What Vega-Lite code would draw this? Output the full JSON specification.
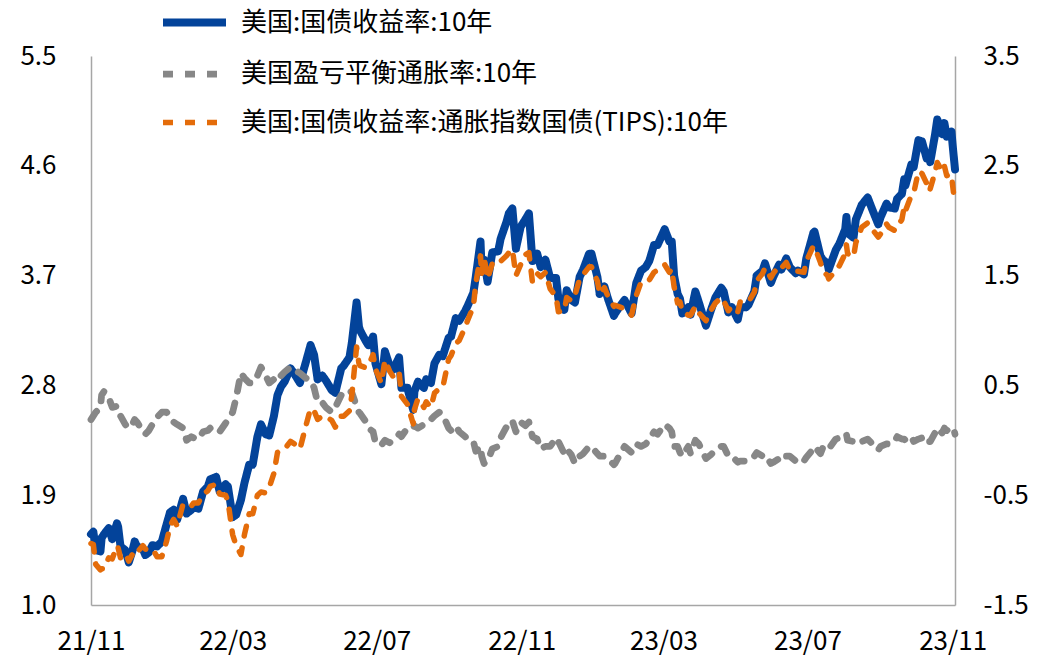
{
"$schema":"https://vega.github.io/schema/vega-lite/v6.json",
"width":864,"height":549,
"autosize":"none",
"padding":{"left":91,"top":56,"right":96,"bottom":52},
"background":"#ffffff",
"config":{"view":{"stroke":null},"font":"Noto Sans CJK SC"},
"data":{"values":[
{"d":"2021-11-01","a":1.58,"b":2.52,"c":-0.94},
{"d":"2021-11-03","a":1.60,"b":2.55,"c":-0.95},
{"d":"2021-11-05","a":1.45,"b":2.58,"c":-1.13},
{"d":"2021-11-09","a":1.44,"b":2.62,"c":-1.18},
{"d":"2021-11-10","a":1.55,"b":2.72,"c":-1.17},
{"d":"2021-11-12","a":1.58,"b":2.75,"c":-1.17},
{"d":"2021-11-16","a":1.63,"b":2.70,"c":-1.07},
{"d":"2021-11-19","a":1.54,"b":2.62,"c":-1.08},
{"d":"2021-11-23","a":1.67,"b":2.63,"c":-0.96},
{"d":"2021-11-24","a":1.64,"b":2.62,"c":-0.98},
{"d":"2021-11-26","a":1.48,"b":2.55,"c":-1.07},
{"d":"2021-11-30","a":1.45,"b":2.48,"c":-1.03},
{"d":"2021-12-03","a":1.35,"b":2.45,"c":-1.10},
{"d":"2021-12-06","a":1.44,"b":2.48,"c":-1.04},
{"d":"2021-12-08","a":1.52,"b":2.52,"c":-1.00},
{"d":"2021-12-10","a":1.48,"b":2.50,"c":-1.02},
{"d":"2021-12-15","a":1.46,"b":2.42,"c":-0.96},
{"d":"2021-12-17","a":1.41,"b":2.40,"c":-0.99},
{"d":"2021-12-20","a":1.43,"b":2.43,"c":-1.00},
{"d":"2021-12-23","a":1.49,"b":2.48,"c":-0.99},
{"d":"2021-12-27","a":1.48,"b":2.54,"c":-1.06},
{"d":"2021-12-31","a":1.52,"b":2.58,"c":-1.06},
{"d":"2022-01-04","a":1.66,"b":2.58,"c":-0.92},
{"d":"2022-01-07","a":1.76,"b":2.54,"c":-0.78},
{"d":"2022-01-10","a":1.78,"b":2.50,"c":-0.72},
{"d":"2022-01-13","a":1.70,"b":2.48,"c":-0.78},
{"d":"2022-01-18","a":1.87,"b":2.45,"c":-0.58},
{"d":"2022-01-21","a":1.75,"b":2.35,"c":-0.60},
{"d":"2022-01-25","a":1.78,"b":2.38,"c":-0.60},
{"d":"2022-01-27","a":1.80,"b":2.37,"c":-0.57},
{"d":"2022-01-31","a":1.79,"b":2.36,"c":-0.57},
{"d":"2022-02-04","a":1.93,"b":2.42,"c":-0.49},
{"d":"2022-02-08","a":1.97,"b":2.43,"c":-0.46},
{"d":"2022-02-10","a":2.03,"b":2.45,"c":-0.42},
{"d":"2022-02-15","a":2.05,"b":2.45,"c":-0.40},
{"d":"2022-02-18","a":1.93,"b":2.42,"c":-0.49},
{"d":"2022-02-23","a":1.99,"b":2.49,"c":-0.50},
{"d":"2022-02-25","a":1.97,"b":2.52,"c":-0.55},
{"d":"2022-03-01","a":1.72,"b":2.58,"c":-0.86},
{"d":"2022-03-04","a":1.74,"b":2.70,"c":-0.96},
{"d":"2022-03-08","a":1.86,"b":2.90,"c":-1.04},
{"d":"2022-03-11","a":2.00,"b":2.86,"c":-0.86},
{"d":"2022-03-15","a":2.15,"b":2.82,"c":-0.67},
{"d":"2022-03-18","a":2.15,"b":2.82,"c":-0.67},
{"d":"2022-03-22","a":2.38,"b":2.88,"c":-0.50},
{"d":"2022-03-25","a":2.48,"b":2.95,"c":-0.47},
{"d":"2022-03-29","a":2.40,"b":2.88,"c":-0.48},
{"d":"2022-04-01","a":2.39,"b":2.82,"c":-0.43},
{"d":"2022-04-05","a":2.55,"b":2.85,"c":-0.30},
{"d":"2022-04-08","a":2.72,"b":2.83,"c":-0.11},
{"d":"2022-04-11","a":2.79,"b":2.88,"c":-0.09},
{"d":"2022-04-14","a":2.83,"b":2.91,"c":-0.08},
{"d":"2022-04-19","a":2.94,"b":2.95,"c":-0.01},
{"d":"2022-04-22","a":2.90,"b":2.93,"c":-0.03},
{"d":"2022-04-27","a":2.82,"b":2.90,"c":-0.08},
{"d":"2022-05-02","a":2.99,"b":2.86,"c":0.13},
{"d":"2022-05-06","a":3.13,"b":2.84,"c":0.29},
{"d":"2022-05-09","a":3.05,"b":2.78,"c":0.27},
{"d":"2022-05-12","a":2.85,"b":2.66,"c":0.19},
{"d":"2022-05-16","a":2.88,"b":2.66,"c":0.22},
{"d":"2022-05-19","a":2.84,"b":2.62,"c":0.22},
{"d":"2022-05-24","a":2.76,"b":2.58,"c":0.18},
{"d":"2022-05-27","a":2.74,"b":2.62,"c":0.12},
{"d":"2022-06-01","a":2.94,"b":2.72,"c":0.22},
{"d":"2022-06-03","a":2.96,"b":2.74,"c":0.22},
{"d":"2022-06-08","a":3.03,"b":2.76,"c":0.27},
{"d":"2022-06-10","a":3.15,"b":2.74,"c":0.41},
{"d":"2022-06-14","a":3.48,"b":2.63,"c":0.85},
{"d":"2022-06-16","a":3.28,"b":2.58,"c":0.70},
{"d":"2022-06-17","a":3.25,"b":2.57,"c":0.68},
{"d":"2022-06-22","a":3.16,"b":2.50,"c":0.66},
{"d":"2022-06-24","a":3.13,"b":2.45,"c":0.68},
{"d":"2022-06-28","a":3.20,"b":2.42,"c":0.78},
{"d":"2022-06-30","a":2.98,"b":2.33,"c":0.65},
{"d":"2022-07-05","a":2.81,"b":2.31,"c":0.52},
{"d":"2022-07-08","a":3.08,"b":2.35,"c":0.73},
{"d":"2022-07-12","a":2.96,"b":2.33,"c":0.63},
{"d":"2022-07-15","a":2.93,"b":2.35,"c":0.58},
{"d":"2022-07-20","a":3.03,"b":2.40,"c":0.63},
{"d":"2022-07-22","a":2.78,"b":2.38,"c":0.40},
{"d":"2022-07-27","a":2.78,"b":2.45,"c":0.33},
{"d":"2022-08-01","a":2.60,"b":2.45,"c":0.15},
{"d":"2022-08-02","a":2.75,"b":2.47,"c":0.28},
{"d":"2022-08-05","a":2.83,"b":2.45,"c":0.38},
{"d":"2022-08-10","a":2.78,"b":2.48,"c":0.30},
{"d":"2022-08-12","a":2.85,"b":2.50,"c":0.35},
{"d":"2022-08-16","a":2.82,"b":2.52,"c":0.30},
{"d":"2022-08-19","a":2.98,"b":2.55,"c":0.43},
{"d":"2022-08-23","a":3.05,"b":2.58,"c":0.47},
{"d":"2022-08-26","a":3.04,"b":2.56,"c":0.48},
{"d":"2022-08-31","a":3.19,"b":2.45,"c":0.74},
{"d":"2022-09-02","a":3.20,"b":2.43,"c":0.77},
{"d":"2022-09-06","a":3.35,"b":2.47,"c":0.88},
{"d":"2022-09-09","a":3.33,"b":2.42,"c":0.91},
{"d":"2022-09-14","a":3.41,"b":2.38,"c":1.03},
{"d":"2022-09-16","a":3.45,"b":2.36,"c":1.09},
{"d":"2022-09-21","a":3.56,"b":2.34,"c":1.22},
{"d":"2022-09-23","a":3.69,"b":2.26,"c":1.43},
{"d":"2022-09-27","a":3.98,"b":2.30,"c":1.68},
{"d":"2022-09-28","a":3.73,"b":2.22,"c":1.51},
{"d":"2022-09-30","a":3.83,"b":2.16,"c":1.67},
{"d":"2022-10-03","a":3.65,"b":2.18,"c":1.47},
{"d":"2022-10-07","a":3.89,"b":2.28,"c":1.61},
{"d":"2022-10-12","a":3.90,"b":2.30,"c":1.60},
{"d":"2022-10-14","a":4.00,"b":2.37,"c":1.63},
{"d":"2022-10-19","a":4.14,"b":2.46,"c":1.68},
{"d":"2022-10-21","a":4.21,"b":2.50,"c":1.71},
{"d":"2022-10-24","a":4.25,"b":2.51,"c":1.74},
{"d":"2022-10-27","a":3.92,"b":2.42,"c":1.50},
{"d":"2022-10-31","a":4.10,"b":2.50,"c":1.60},
{"d":"2022-11-04","a":4.16,"b":2.47,"c":1.69},
{"d":"2022-11-07","a":4.21,"b":2.50,"c":1.71},
{"d":"2022-11-10","a":3.82,"b":2.38,"c":1.44},
{"d":"2022-11-14","a":3.88,"b":2.36,"c":1.52},
{"d":"2022-11-17","a":3.77,"b":2.28,"c":1.49},
{"d":"2022-11-21","a":3.83,"b":2.30,"c":1.53},
{"d":"2022-11-25","a":3.68,"b":2.30,"c":1.38},
{"d":"2022-11-30","a":3.68,"b":2.37,"c":1.31},
{"d":"2022-12-02","a":3.51,"b":2.34,"c":1.17},
{"d":"2022-12-07","a":3.42,"b":2.24,"c":1.18},
{"d":"2022-12-09","a":3.58,"b":2.28,"c":1.30},
{"d":"2022-12-13","a":3.50,"b":2.23,"c":1.27},
{"d":"2022-12-16","a":3.48,"b":2.16,"c":1.32},
{"d":"2022-12-20","a":3.69,"b":2.22,"c":1.47},
{"d":"2022-12-23","a":3.75,"b":2.24,"c":1.51},
{"d":"2022-12-28","a":3.88,"b":2.30,"c":1.58},
{"d":"2022-12-30","a":3.88,"b":2.30,"c":1.58},
{"d":"2023-01-04","a":3.69,"b":2.24,"c":1.45},
{"d":"2023-01-06","a":3.55,"b":2.22,"c":1.33},
{"d":"2023-01-10","a":3.61,"b":2.22,"c":1.39},
{"d":"2023-01-13","a":3.51,"b":2.20,"c":1.31},
{"d":"2023-01-18","a":3.37,"b":2.15,"c":1.22},
{"d":"2023-01-19","a":3.39,"b":2.16,"c":1.23},
{"d":"2023-01-24","a":3.46,"b":2.25,"c":1.21},
{"d":"2023-01-27","a":3.50,"b":2.30,"c":1.20},
{"d":"2023-02-02","a":3.39,"b":2.25,"c":1.14},
{"d":"2023-02-06","a":3.64,"b":2.32,"c":1.32},
{"d":"2023-02-10","a":3.74,"b":2.30,"c":1.44},
{"d":"2023-02-14","a":3.77,"b":2.32,"c":1.45},
{"d":"2023-02-17","a":3.82,"b":2.36,"c":1.46},
{"d":"2023-02-21","a":3.95,"b":2.42,"c":1.53},
{"d":"2023-02-24","a":3.95,"b":2.40,"c":1.55},
{"d":"2023-03-02","a":4.08,"b":2.48,"c":1.60},
{"d":"2023-03-06","a":3.98,"b":2.45,"c":1.53},
{"d":"2023-03-08","a":3.98,"b":2.42,"c":1.56},
{"d":"2023-03-10","a":3.70,"b":2.30,"c":1.40},
{"d":"2023-03-13","a":3.55,"b":2.30,"c":1.25},
{"d":"2023-03-15","a":3.51,"b":2.25,"c":1.26},
{"d":"2023-03-17","a":3.39,"b":2.22,"c":1.17},
{"d":"2023-03-22","a":3.44,"b":2.30,"c":1.14},
{"d":"2023-03-24","a":3.38,"b":2.24,"c":1.14},
{"d":"2023-03-28","a":3.57,"b":2.35,"c":1.22},
{"d":"2023-03-31","a":3.48,"b":2.32,"c":1.16},
{"d":"2023-04-06","a":3.29,"b":2.20,"c":1.09},
{"d":"2023-04-10","a":3.41,"b":2.23,"c":1.18},
{"d":"2023-04-14","a":3.52,"b":2.27,"c":1.25},
{"d":"2023-04-19","a":3.60,"b":2.30,"c":1.30},
{"d":"2023-04-21","a":3.57,"b":2.30,"c":1.27},
{"d":"2023-04-25","a":3.40,"b":2.22,"c":1.18},
{"d":"2023-04-28","a":3.44,"b":2.22,"c":1.22},
{"d":"2023-05-03","a":3.34,"b":2.17,"c":1.17},
{"d":"2023-05-05","a":3.44,"b":2.18,"c":1.26},
{"d":"2023-05-10","a":3.44,"b":2.18,"c":1.26},
{"d":"2023-05-12","a":3.46,"b":2.20,"c":1.26},
{"d":"2023-05-17","a":3.57,"b":2.22,"c":1.35},
{"d":"2023-05-19","a":3.70,"b":2.25,"c":1.45},
{"d":"2023-05-24","a":3.74,"b":2.22,"c":1.52},
{"d":"2023-05-26","a":3.80,"b":2.23,"c":1.57},
{"d":"2023-05-31","a":3.64,"b":2.16,"c":1.48},
{"d":"2023-06-02","a":3.69,"b":2.17,"c":1.52},
{"d":"2023-06-07","a":3.79,"b":2.20,"c":1.59},
{"d":"2023-06-09","a":3.75,"b":2.18,"c":1.57},
{"d":"2023-06-13","a":3.84,"b":2.22,"c":1.62},
{"d":"2023-06-16","a":3.77,"b":2.22,"c":1.55},
{"d":"2023-06-21","a":3.72,"b":2.18,"c":1.54},
{"d":"2023-06-23","a":3.74,"b":2.20,"c":1.54},
{"d":"2023-06-28","a":3.71,"b":2.18,"c":1.53},
{"d":"2023-06-30","a":3.84,"b":2.21,"c":1.63},
{"d":"2023-07-06","a":4.05,"b":2.28,"c":1.77},
{"d":"2023-07-07","a":4.06,"b":2.30,"c":1.76},
{"d":"2023-07-12","a":3.86,"b":2.24,"c":1.62},
{"d":"2023-07-14","a":3.83,"b":2.29,"c":1.54},
{"d":"2023-07-18","a":3.80,"b":2.30,"c":1.50},
{"d":"2023-07-19","a":3.75,"b":2.28,"c":1.47},
{"d":"2023-07-25","a":3.91,"b":2.36,"c":1.55},
{"d":"2023-07-28","a":3.96,"b":2.37,"c":1.59},
{"d":"2023-08-02","a":4.08,"b":2.38,"c":1.70},
{"d":"2023-08-03","a":4.18,"b":2.40,"c":1.78},
{"d":"2023-08-04","a":4.05,"b":2.35,"c":1.70},
{"d":"2023-08-09","a":4.01,"b":2.34,"c":1.67},
{"d":"2023-08-11","a":4.16,"b":2.36,"c":1.80},
{"d":"2023-08-16","a":4.28,"b":2.34,"c":1.94},
{"d":"2023-08-21","a":4.34,"b":2.36,"c":1.98},
{"d":"2023-08-25","a":4.24,"b":2.32,"c":1.92},
{"d":"2023-08-30","a":4.12,"b":2.27,"c":1.85},
{"d":"2023-09-01","a":4.18,"b":2.30,"c":1.88},
{"d":"2023-09-06","a":4.29,"b":2.32,"c":1.97},
{"d":"2023-09-08","a":4.26,"b":2.32,"c":1.94},
{"d":"2023-09-13","a":4.25,"b":2.34,"c":1.91},
{"d":"2023-09-15","a":4.33,"b":2.38,"c":1.95},
{"d":"2023-09-19","a":4.37,"b":2.36,"c":2.01},
{"d":"2023-09-21","a":4.49,"b":2.36,"c":2.13},
{"d":"2023-09-22","a":4.44,"b":2.35,"c":2.09},
{"d":"2023-09-27","a":4.61,"b":2.38,"c":2.23},
{"d":"2023-09-29","a":4.59,"b":2.34,"c":2.25},
{"d":"2023-10-03","a":4.81,"b":2.36,"c":2.45},
{"d":"2023-10-06","a":4.80,"b":2.37,"c":2.43},
{"d":"2023-10-10","a":4.66,"b":2.32,"c":2.34},
{"d":"2023-10-12","a":4.70,"b":2.34,"c":2.36},
{"d":"2023-10-13","a":4.63,"b":2.34,"c":2.29},
{"d":"2023-10-17","a":4.85,"b":2.41,"c":2.44},
{"d":"2023-10-19","a":4.98,"b":2.45,"c":2.53},
{"d":"2023-10-23","a":4.86,"b":2.41,"c":2.45},
{"d":"2023-10-25","a":4.95,"b":2.45,"c":2.50},
{"d":"2023-10-27","a":4.84,"b":2.43,"c":2.41},
{"d":"2023-10-31","a":4.88,"b":2.46,"c":2.42},
{"d":"2023-11-01","a":4.77,"b":2.45,"c":2.32},
{"d":"2023-11-02","a":4.67,"b":2.44,"c":2.23},
{"d":"2023-11-03","a":4.57,"b":2.40,"c":2.17}
]},
"transform":[{"fold":["a","b","c"],"as":["s","v"]}],
"encoding":{
 "x":{"field":"d","type":"temporal",
  "scale":{"type":"utc","domain":[{"year":2021,"month":11,"date":1,"utc":true},{"year":2023,"month":11,"date":3,"utc":true}]},
  "axis":{"title":null,"grid":false,"ticks":false,"domainColor":"#a6a6a6","domainWidth":1.5,
   "values":[{"year":2021,"month":11,"date":1,"utc":true},{"year":2022,"month":3,"date":1,"utc":true},{"year":2022,"month":7,"date":1,"utc":true},{"year":2022,"month":11,"date":1,"utc":true},{"year":2023,"month":3,"date":1,"utc":true},{"year":2023,"month":7,"date":1,"utc":true},{"year":2023,"month":11,"date":1,"utc":true}],
   "labelExpr":"utcFormat(datum.value, '%y/%m')","labelFontSize":26,"labelColor":"#000000","labelPadding":23,"labelFlush":false,"labelOverlap":false,"labelBound":false}},
 "color":{"field":"s","type":"nominal","scale":{"domain":["a","b","c"],"range":["#03439A","#878787","#E46C0A"]},
  "legend":{"orient":"none","legendX":68,"legendY":-69,"title":null,"symbolType":"stroke","symbolSize":3969,"labelFontSize":26,"labelColor":"#000000","labelLimit":0,"rowPadding":0,"padding":0,"labelOffset":11,
   "labelExpr":"datum.label == 'a' ? '美国:国债收益率:10年' : datum.label == 'b' ? '美国盈亏平衡通胀率:10年' : '美国:国债收益率:通胀指数国债(TIPS):10年'"}},
 "strokeDash":{"field":"s","type":"nominal","scale":{"domain":["a","b","c"],"range":[[1,0],[10,12],[10,12]]}},
 "strokeWidth":{"field":"s","type":"nominal","scale":{"domain":["a","b","c"],"range":[8,5.5,5.5]}}
},
"layer":[
 {"transform":[{"filter":"datum.s != 'c'"}],
  "mark":{"type":"line","strokeCap":"round","strokeJoin":"round"},
  "encoding":{"y":{"field":"v","type":"quantitative","scale":{"domain":[1.0,5.5],"nice":false,"zero":false},
   "axis":{"title":null,"grid":false,"ticks":false,"values":[1.0,1.9,2.8,3.7,4.6,5.5],"format":".1f","domainColor":"#a6a6a6","domainWidth":1.5,"labelFontSize":26,"labelColor":"#000000","labelPadding":35}}}},
 {"transform":[{"filter":"datum.s == 'c'"}],
  "mark":{"type":"line","strokeCap":"round","strokeJoin":"round"},
  "encoding":{"y":{"field":"v","type":"quantitative","scale":{"domain":[-1.5,3.5],"nice":false,"zero":false},
   "axis":{"orient":"right","title":null,"grid":false,"ticks":false,"values":[-1.5,-0.5,0.5,1.5,2.5,3.5],"labelExpr":"replace(format(datum.value, '.1f'), '\u2212', '-')","domainColor":"#a6a6a6","domainWidth":1.5,"labelFontSize":26,"labelColor":"#000000","labelPadding":28}}}}
],
"resolve":{"scale":{"y":"independent"}}
}
